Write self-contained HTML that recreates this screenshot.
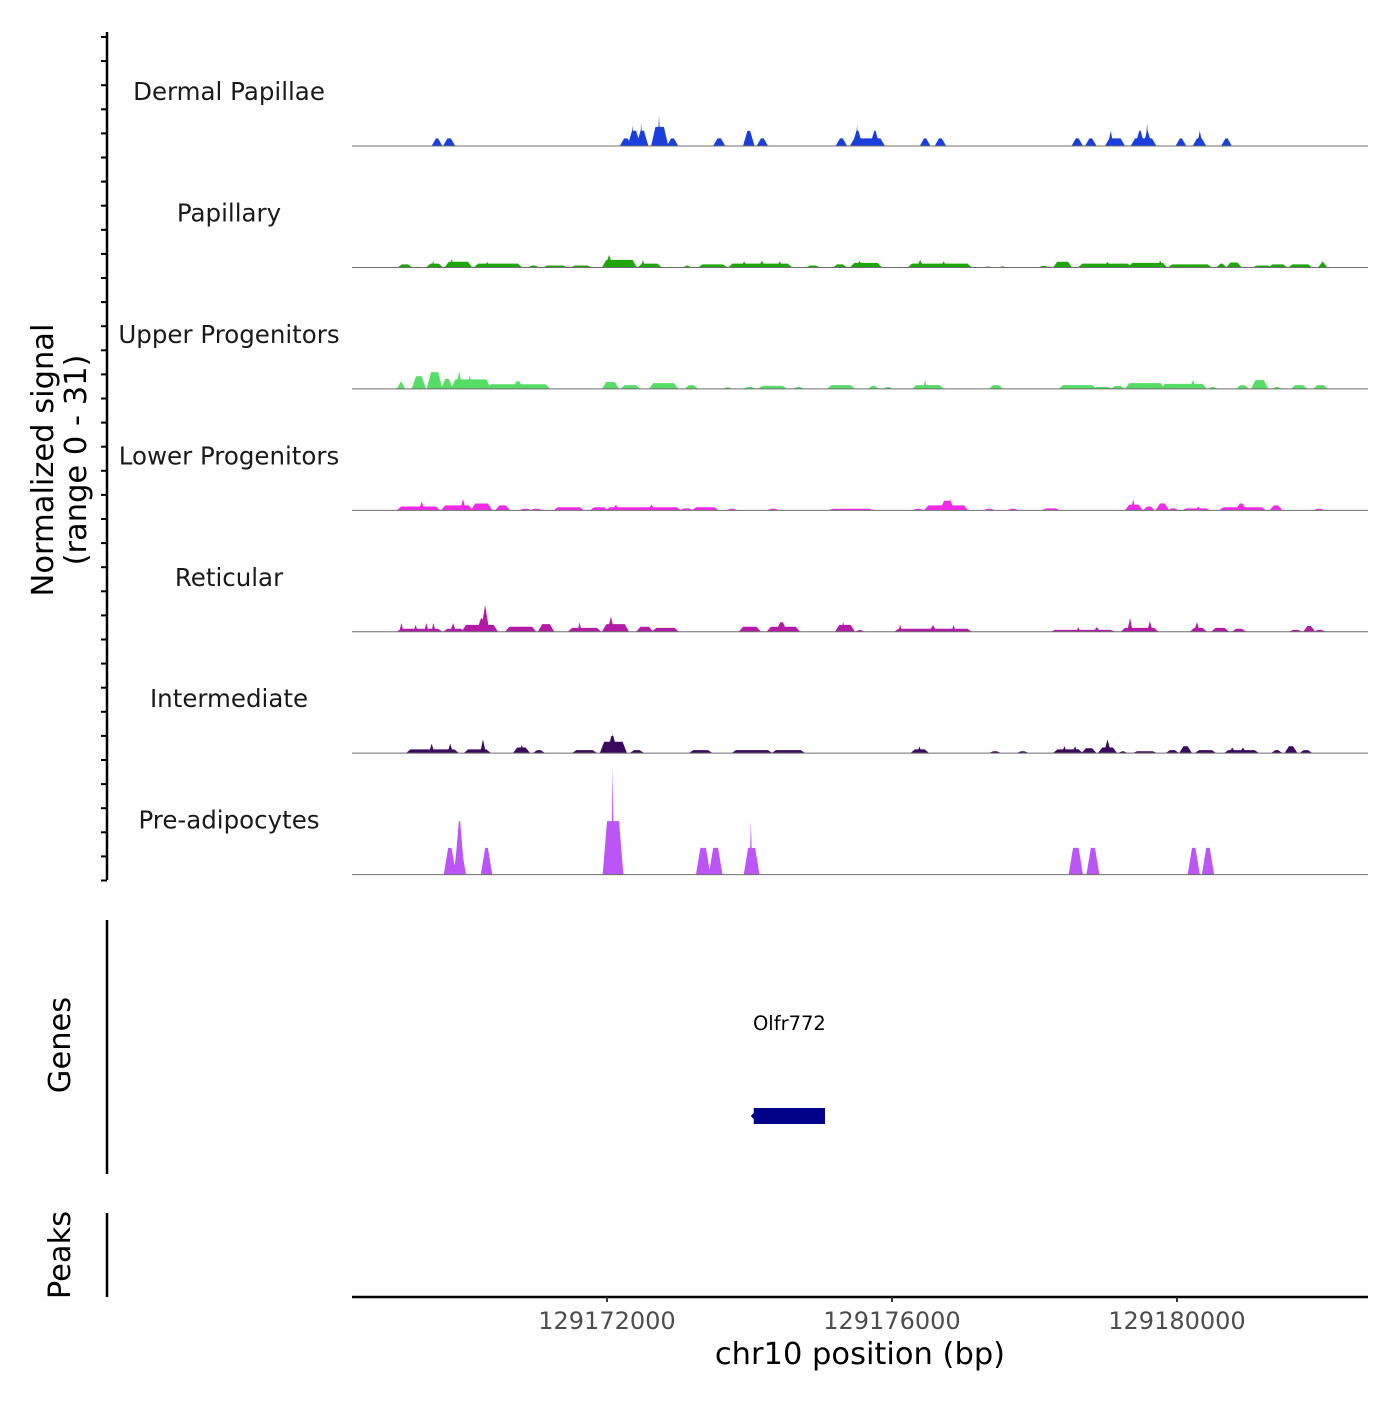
<!DOCTYPE html>
<html><head><meta charset="utf-8"><style>
html,body{margin:0;padding:0;background:#fff;}
svg text{font-family:"DejaVu Sans","Liberation Sans",sans-serif;}
</style></head><body>
<svg id="chart" xmlns="http://www.w3.org/2000/svg" width="1400" height="1400" viewBox="0 0 1400 1400">
<rect width="1400" height="1400" fill="#fff"/>
<g id="tracks"></g>
<g id="axes"></g>
</svg>
<script>
// positions in kb after chr10:129,000 kb ; values in normalized signal
const xTicks = [172, 176, 180];
const xTickLabels = ["129172000", "129176000", "129180000"];
const trackNames = ["Dermal Papillae","Papillary","Upper Progenitors","Lower Progenitors","Reticular","Intermediate","Pre-adipocytes"];
const trackColors = ["#1a3fdc","#1ea60a","#55dd66","#f12ae6","#b31ba6","#3a0a5e","#bb55f7"];
const dermalPapillae = [[169.57,169.66,2],[169.73,169.84,2],[172.21,172.32,2],[172.32,172.44,4],[172.35,172.37,5.5],[172.44,172.55,4],[172.47,172.49,6],[172.65,172.83,5],[172.72,172.74,8],[172.87,172.97,2],[173.52,173.63,2],[173.94,174.04,4],[174.13,174.23,2],[175.24,175.34,2],[175.44,175.87,2],[175.47,175.56,4],[175.50,175.52,5.5],[175.72,175.80,4],[176.42,176.51,2],[176.63,176.73,2],[178.55,178.65,2],[178.74,178.84,2],[179.02,179.24,2],[179.05,179.09,4],[179.38,179.68,2],[179.44,179.52,4],[179.55,179.62,4],[179.57,179.59,6],[180.01,180.10,2],[180.25,180.38,2],[180.30,180.34,4],[180.65,180.74,2]];
const papillary = [[169.09,169.24,0.8],[169.49,169.67,1],[169.55,169.57,1.8],[169.75,170.08,1.5],[169.80,169.84,2.2],[170.16,170.78,1],[170.30,170.34,1.5],[170.92,171.02,0.5],[171.13,171.42,0.5],[171.52,171.76,0.5],[171.96,172.39,2],[172.00,172.06,3.3],[172.46,172.74,1],[172.49,172.52,2],[173.09,173.16,0.5],[173.31,173.66,0.8],[173.73,174.57,1],[173.90,173.95,1.6],[174.15,174.20,1.8],[174.40,174.45,1.6],[174.82,174.96,0.5],[175.20,175.34,0.8],[175.44,175.83,1.2],[175.52,175.57,1.8],[176.25,177.09,1],[176.37,176.42,2],[176.70,176.75,1.6],[177.31,177.38,0.3],[177.52,177.59,0.3],[178.08,178.18,0.4],[178.29,178.50,1.5],[178.64,179.34,1],[179.00,179.05,1.5],[179.34,179.83,1.2],[179.74,179.79,1.8],[179.90,180.46,0.8],[180.58,180.67,1],[180.72,180.88,1.3],[181.09,181.31,0.5],[181.31,181.52,0.8],[181.59,181.87,0.8],[182.01,182.08,1.5]];
const upperProgenitors = [[169.08,169.14,2],[169.29,169.43,3.3],[169.50,169.66,4.4],[169.70,169.81,2.6],[169.84,170.34,2.5],[169.90,169.95,4.6],[170.05,170.10,3.5],[170.34,171.17,1.2],[170.70,170.80,2],[171.96,172.14,1.8],[172.22,172.44,1],[172.62,172.97,1.5],[173.12,173.25,1],[173.66,173.73,0.5],[173.94,174.06,0.5],[174.15,174.50,0.8],[174.64,174.74,0.5],[175.12,175.45,1],[175.69,175.79,0.8],[175.90,175.99,0.5],[176.31,176.70,1],[176.45,176.48,2.3],[177.39,177.53,1],[178.37,178.84,1],[178.84,179.07,0.5],[179.10,179.24,0.8],[179.30,179.80,1.5],[179.80,180.39,1.3],[180.20,180.25,2.3],[180.46,180.55,0.5],[180.86,180.98,1],[181.07,181.25,2.3],[181.36,181.45,0.5],[181.63,181.80,1],[181.94,182.09,1]];
const lowerProgenitors = [[169.08,169.63,1],[169.38,169.42,2.3],[169.70,170.09,1.3],[169.96,170.00,3],[170.12,170.36,1.8],[170.46,170.61,1.3],[170.79,170.92,0.4],[170.95,171.07,0.4],[171.28,171.65,0.8],[171.79,171.99,0.8],[172.01,173.01,0.8],[172.10,172.15,1.5],[172.60,172.65,1.5],[173.05,173.18,0.5],[173.22,173.54,0.8],[173.70,173.81,0.4],[174.27,174.39,0.4],[175.14,175.72,0.4],[176.31,176.42,0.4],[176.48,177.04,1.3],[176.70,176.85,2.5],[176.80,176.83,3],[177.31,177.42,0.4],[177.64,177.75,0.4],[178.13,178.33,0.5],[179.30,179.49,1.5],[179.37,179.40,3],[179.55,179.66,1],[179.73,179.86,1.8],[179.89,180.00,0.5],[180.10,180.44,0.5],[180.28,180.32,1],[180.62,181.22,0.8],[180.85,180.95,1.8],[181.33,181.45,1.3],[181.94,182.05,0.4]];
const reticular = [[169.08,169.66,0.8],[169.10,169.13,2.3],[169.30,169.33,1.8],[169.45,169.48,2.3],[169.55,169.58,2.3],[169.73,169.98,0.8],[169.82,169.86,2.3],[169.99,170.44,1.8],[170.20,170.28,3.5],[170.26,170.32,7],[170.60,170.98,1.3],[171.06,171.23,2],[171.48,171.89,1],[171.60,171.63,2.5],[171.96,172.28,2],[172.03,172.08,4],[172.44,172.62,1.3],[172.66,172.98,1],[173.88,174.13,1.3],[174.27,174.68,1.3],[174.40,174.50,2.5],[175.23,175.45,1.8],[175.30,175.33,2.6],[175.51,175.59,0.5],[176.06,177.09,0.8],[176.10,176.13,1.8],[176.55,176.60,1.8],[176.85,176.88,1.8],[178.26,179.10,0.5],[178.60,178.63,1.2],[178.85,178.90,1.2],[179.24,179.71,1],[179.32,179.36,3.6],[179.60,179.64,2.8],[180.21,180.39,1],[180.26,180.30,2.6],[180.51,180.70,1],[180.80,180.94,0.8],[181.60,181.73,0.5],[181.80,181.91,1.5],[181.95,182.06,0.5]];
const intermediate = [[169.21,169.89,1],[169.52,169.56,2.5],[169.78,169.82,2.5],[170.02,170.34,1],[170.24,170.28,3.6],[170.71,170.89,1.5],[170.79,170.82,2.3],[170.99,171.10,0.8],[171.54,171.83,0.8],[171.93,172.25,3],[172.03,172.12,4.5],[172.07,172.09,5.4],[172.35,172.49,0.8],[173.18,173.45,0.8],[173.78,174.29,0.8],[174.34,174.75,0.8],[176.29,176.49,1],[176.37,176.40,1.8],[177.39,177.50,0.5],[177.78,177.89,0.5],[178.29,178.65,1],[178.40,178.44,1.8],[178.55,178.59,1.8],[178.69,178.84,1.3],[178.92,179.13,1.5],[179.00,179.05,3.6],[179.20,179.28,0.5],[179.41,179.69,0.5],[179.87,180.00,0.8],[180.06,180.18,1.8],[180.28,180.52,0.8],[180.69,181.12,0.8],[180.75,180.80,1.5],[180.90,180.95,1.5],[181.35,181.45,0.8],[181.54,181.66,1.8],[181.75,181.87,0.8]];
const preAdipocytes = [[169.74,169.85,7],[169.87,169.99,7],[169.89,169.97,14],[170.26,170.36,7],[171.97,172.20,14],[172.07,172.09,28],[173.28,173.42,7],[173.46,173.59,7],[173.95,174.11,7],[174.01,174.03,14],[178.51,178.65,7],[178.76,178.88,7],[180.18,180.29,7],[180.38,180.49,7]];
const geneName = "Olfr772";
const geneStart = 174.06, geneEnd = 175.06;

const tracksData = [dermalPapillae,papillary,upperProgenitors,lowerProgenitors,reticular,intermediate,preAdipocytes];
const NS = "http://www.w3.org/2000/svg";
const X0 = 352, X1 = 1368, KB0 = 168.4216, KB1 = 182.6807;
function xScale(kb){ return X0 + (kb-KB0)/(KB1-KB0)*(X1-X0); }
const trackTop = 24.6, trackH = 121.43, yMax = 31;
function yScale(i, v){ const base = trackTop + trackH*(i+1); return base - v/yMax*(trackH-3); }
function mk(tag, attrs, parent){ const e=document.createElementNS(NS,tag); for(const k in attrs) e.setAttribute(k,attrs[k]); parent.appendChild(e); return e; }
const tracksG = document.getElementById('tracks');
const axesG = document.getElementById('axes');

tracksData.forEach((segs, i) => {
  const g = mk('g', {}, tracksG);
  
  
  const base = yScale(i, 0);
  const lbl = mk('text', {x:229, y:base-46, 'text-anchor':'middle', 'font-size':24.5, fill:'#1a1a1a'}, g);
  lbl.textContent = trackNames[i];
  
  
  segs.forEach(s => {
    const xa = xScale(s[0]), xb = xScale(s[1]), yt = yScale(i, s[2]);
    const r = Math.min(2.2, (xb-xa)/2);
    const p = mk('polygon', {points:`${xa-r},${base} ${xa+r},${yt} ${xb-r},${yt} ${xb+r},${base}`, fill:trackColors[i]}, g);
    
    
  });
  const bl = mk('line', {x1:X0, x2:X1, y1:base, y2:base, stroke:'#6e6e6e', 'stroke-width':1}, g);
  
  
});

// left signal axis
const ya = mk('line', {x1:107, x2:107, y1:32, y2:880, stroke:'#000', 'stroke-width':2.5}, axesG);


for (let k=0; k<=35; k++) {
  const y = 37 + k*24.1;
  const t = mk('line', {x1:101, x2:107, y1:y, y2:y, stroke:'#000', 'stroke-width':2}, axesG);
  
  
}
const yt = mk('text', {transform:'translate(53,460) rotate(-90)', 'text-anchor':'middle', 'font-size':30.5, fill:'#000'}, axesG);


mk('tspan', {x:0, dy:0}, yt).textContent = 'Normalized signal';
mk('tspan', {x:0, dy:33}, yt).textContent = '(range 0 - 31)';

// genes panel
const gl = mk('line', {x1:107, x2:107, y1:920, y2:1174, stroke:'#000', 'stroke-width':2.5}, axesG);


const gt = mk('text', {transform:'translate(70,1045) rotate(-90)', 'text-anchor':'middle', 'font-size':30.5, fill:'#000'}, axesG);
gt.textContent = 'Genes';


const gx0 = xScale(geneStart), gx1 = xScale(geneEnd);
const gr = mk('rect', {x:gx0, y:1108, width:gx1-gx0, height:16, fill:'#00008b'}, axesG);


const ga = mk('polygon', {points:`${gx0-3},1116 ${gx0+2},1111 ${gx0+2},1121`, fill:'#00008b'}, axesG);


const gn = mk('text', {x:(gx0+gx1)/2, y:1030, 'text-anchor':'middle', 'font-size':19.5, fill:'#000'}, axesG);
gn.textContent = geneName;



// peaks panel
const pl = mk('line', {x1:107, x2:107, y1:1213, y2:1297, stroke:'#000', 'stroke-width':2.5}, axesG);


const pt = mk('text', {transform:'translate(70,1255) rotate(-90)', 'text-anchor':'middle', 'font-size':30.5, fill:'#000'}, axesG);
pt.textContent = 'Peaks';



// x axis
const xa = mk('line', {x1:X0, x2:X1, y1:1297, y2:1297, stroke:'#000', 'stroke-width':2.5}, axesG);


xTicks.forEach((v, j) => {
  const x = xScale(v);
  const tk = mk('line', {x1:x, x2:x, y1:1297, y2:1302, stroke:'#333', 'stroke-width':2}, axesG);
  
  
  const tl = mk('text', {x:x, y:1329, 'text-anchor':'middle', 'font-size':24, fill:'#4d4d4d'}, axesG);
  tl.textContent = xTickLabels[j];
  
  
});
const xt = mk('text', {x:860, y:1364, 'text-anchor':'middle', 'font-size':30.5, fill:'#000'}, axesG);
xt.textContent = 'chr10 position (bp)';


</script>
</body></html>
